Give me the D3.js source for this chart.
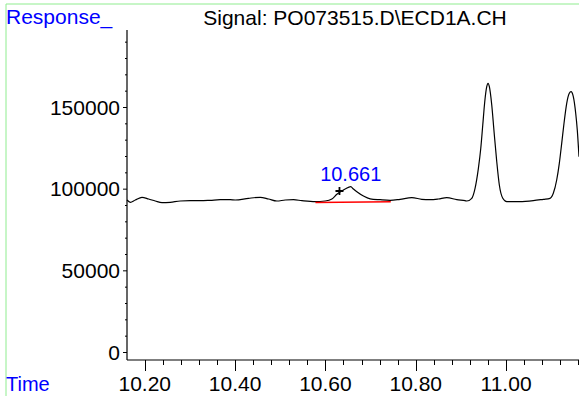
<!DOCTYPE html>
<html><head><meta charset="utf-8">
<script src="https://cdn.jsdelivr.net/npm/d3@7"></script>
<style>
html,body{margin:0;padding:0;background:#fff;}
svg{display:block;}
text{font-family:Arial,"Liberation Sans",sans-serif;}
</style></head>
<body>
<svg id="chart" width="579" height="396"></svg>
<script>
// ---- data ----
const title = "Signal: PO073515.D\\ECD1A.CH";
const yLabel = "Response_";
const xLabel = "Time";
const xTickLabels = ["10.20", "10.40", "10.60", "10.80", "11.00"];
const yTickLabels = ["0", "50000", "100000", "150000"];
const times = [10.1606, 10.1679, 10.1790, 10.1938, 10.2084, 10.2232, 10.2381, 10.2564, 10.2786, 10.3007,
  10.3228, 10.3449, 10.3671, 10.3892, 10.4003, 10.4297, 10.4556, 10.4740, 10.4925, 10.5109,
  10.5293, 10.5479, 10.5773, 10.5994, 10.6143, 10.6253, 10.6437, 10.6560, 10.6620, 10.6696,
  10.6842, 10.6990, 10.7211, 10.7432, 10.7653, 10.7913, 10.8134, 10.8318, 10.8501, 10.8687,
  10.8909, 10.9092, 10.9130, 10.9240, 10.9313, 10.9387, 10.9440, 10.9484, 10.9528, 10.9572,
  10.9601, 10.9630, 10.9683, 10.9734, 10.9794, 10.9851, 10.9927, 11.0015, 11.0161, 11.0294,
  11.0604, 11.0825, 11.0973, 11.1046, 11.1121, 11.1179, 11.1232, 11.1283, 11.1343, 11.1400,
  11.1438, 11.1489, 11.1542, 11.1577, 11.1615];
const response = [93060, 91650, 93060, 94710, 93670, 92450, 91410, 91650, 92450, 92630,
  92630, 92880, 93240, 93240, 93060, 94100, 94710, 93670, 92450, 93060,
  93240, 92630, 92020, 92450, 93670, 96550, 99790, 101200, 99790, 98140,
  95500, 93800, 93240, 92880, 93490, 94470, 93490, 93240, 93670, 94470,
  93240, 92630, 92450, 94100, 100220, 112470, 124710, 138980, 153240, 162430,
  164510, 162430, 151220, 134880, 116510, 102240, 94100, 92020, 92020, 92020,
  92630, 93490, 94100, 97160, 105300, 115530, 127770, 140020, 152260, 158380,
  159360, 156300, 146140, 135920, 119570];
const peakLabel = "10.661";
const peakTime = 10.6560, peakValue = 101200;
const markTime = 10.6311, markValue = 98570;
const baselineTimes = [10.5779, 10.7446];
const baselineValues = [91530, 92020];

// ---- layout ----
const svg = d3.select("#chart");
const x = d3.scaleLinear().domain([10.1606, 11.1615]).range([127, 579]);
const y = d3.scaleLinear().domain([0, 150000]).range([352, 107]);
const axisBottomY = 360, axisTopY = 30;

// frame lines (light green)
svg.append("line").attr("x1", 6).attr("x2", 579).attr("y1", 4).attr("y2", 4)
  .attr("stroke", "#8fec8f").attr("stroke-width", 1);
svg.append("line").attr("x1", 6).attr("x2", 6).attr("y1", 4).attr("y2", 396)
  .attr("stroke", "#8fec8f").attr("stroke-width", 1);

// title & labels
svg.append("text").attr("x", 355).attr("y", 25).attr("text-anchor", "middle")
  .attr("font-size", 21).attr("fill", "#000").text(title);
svg.append("text").attr("x", 6).attr("y", 24).attr("font-size", 21)
  .attr("fill", "#0000ff").text(yLabel);
svg.append("text").attr("x", 6).attr("y", 391).attr("font-size", 20)
  .attr("fill", "#0000ff").text(xLabel);

// y axis
const gy = svg.append("g").attr("transform", "translate(127,0)");
gy.append("line").attr("x1", 0).attr("x2", 0).attr("y1", axisTopY).attr("y2", axisBottomY)
  .attr("stroke", "#000").attr("stroke-width", 1.2);
const yMinor = d3.range(0, 200000, 10000).filter(v => y(v) >= axisTopY);
gy.selectAll("line.ym").data(yMinor).join("line").attr("class", "ym")
  .attr("x1", v => (v % 50000 === 0 ? -4 : -2)).attr("x2", 0)
  .attr("y1", v => y(v) + 0.5).attr("y2", v => y(v) + 0.5)
  .attr("stroke", "#000").attr("stroke-width", 1);
gy.selectAll("text.yl").data(yTickLabels).join("text").attr("class", "yl")
  .attr("x", -7).attr("y", d => y(+d)).attr("dy", "0.36em")
  .attr("text-anchor", "end").attr("font-size", 21).attr("fill", "#000").text(d => d);

// x axis
const gx = svg.append("g").attr("transform", `translate(0,${axisBottomY})`);
gx.append("line").attr("x1", 127).attr("x2", 579).attr("y1", 0).attr("y2", 0)
  .attr("stroke", "#000").attr("stroke-width", 1.2);
const xMinor = d3.range(0, 26).map(i => +(10.16 + i * 0.04).toFixed(2)).filter(t => x(t) >= 128 && x(t) <= 579);
gx.selectAll("line.xm").data(xMinor).join("line").attr("class", "xm")
  .attr("x1", t => Math.round(x(t)) + 0.5).attr("x2", t => Math.round(x(t)) + 0.5)
  .attr("y1", 0).attr("y2", t => (xTickLabels.includes(t.toFixed(2)) ? 11 : 5))
  .attr("stroke", "#000").attr("stroke-width", 1);
gx.selectAll("text.xl").data(xTickLabels).join("text").attr("class", "xl")
  .attr("x", d => x(+d)).attr("y", 31).attr("text-anchor", "middle")
  .attr("font-size", 21).attr("fill", "#000").text(d => d);

// trace
const pts = times.map((t, i) => [t, response[i]]);
svg.append("path").datum(pts)
  .attr("d", d3.line().x(d => x(d[0])).y(d => y(d[1])).curve(d3.curveMonotoneX))
  .attr("fill", "none").attr("stroke", "#000").attr("stroke-width", 1.2);

// integration baseline
svg.append("line")
  .attr("x1", x(baselineTimes[0])).attr("x2", x(baselineTimes[1]))
  .attr("y1", y(baselineValues[0])).attr("y2", y(baselineValues[1]))
  .attr("stroke", "#ff0000").attr("stroke-width", 1.5);

// peak marker
const mx = x(markTime), my = y(markValue);
svg.append("path").attr("d", `M${mx - 4},${my}H${mx + 4}M${mx},${my - 4}V${my + 4}`)
  .attr("stroke", "#000").attr("stroke-width", 1.8).attr("fill", "none");

// peak label
svg.append("text").attr("x", x(peakTime)).attr("y", y(peakValue) - 6)
  .attr("text-anchor", "middle").attr("font-size", 20).attr("fill", "#0000ff").text(peakLabel);
</script>
</body></html>
